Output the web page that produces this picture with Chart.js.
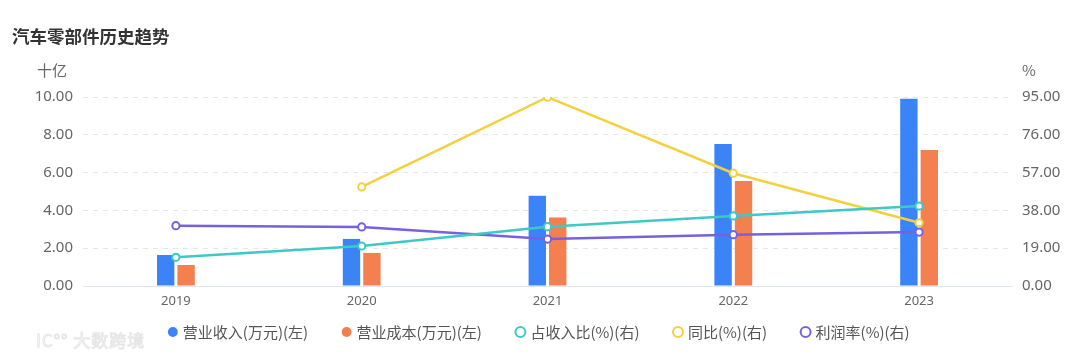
<!DOCTYPE html>
<html>
<head>
<meta charset="utf-8">
<script src="https://cdn.jsdelivr.net/npm/chart.js@4/dist/chart.umd.min.js"></script>
<style>
  html, body { margin: 0; padding: 0; background: #fff; }
  #wrap { position: relative; width: 1080px; height: 359px; overflow: hidden; }
  #title { position: absolute; left: 12px; top: 23px; font: bold 17.5px "Noto Sans CJK SC", sans-serif; color: #333; }
  #wm { position: absolute; left: 36px; top: 327px; font: 17px "Noto Sans CJK SC", sans-serif; color: #fff;
        -webkit-text-stroke: 1px #e6e6e6; letter-spacing: 1px; }
  canvas { position: absolute; left: 0; top: 0; }
</style>
</head>
<body>
<div id="wrap">
  <canvas id="c" width="1080" height="359"></canvas>
  <div id="title">汽车零部件历史趋势</div>
  <div id="wm">IC°° 大数跨境</div>
</div>
<script>
const categories = ['2019', '2020', '2021', '2022', '2023'];
const revenue = [1.64, 2.49, 4.78, 7.51, 9.91];      // 营业收入 (十亿)
const cost = [1.11, 1.75, 3.63, 5.56, 7.20];         // 营业成本 (十亿)
const revenueShare = [14.4, 20.1, 29.8, 35.2, 40.2]; // 占收入比 %
const yoy = [null, 49.8, 94.9, 56.7, 31.8];          // 同比 %
const profitRate = [30.3, 29.7, 23.6, 25.8, 27.1];   // 利润率 %
const leftTicks = [0, 2, 4, 6, 8, 10];
const rightTicks = [0, 19, 38, 57, 76, 95];
const seriesNames = ['营业收入(万元)(左)', '营业成本(万元)(左)', '占收入比(%)(右)', '同比(%)(右)', '利润率(%)(右)'];
const leftUnit = '十亿';
const rightUnit = '%';

const colors = ['#3a84f8', '#f47f4f', '#3dc9c4', '#f4d03f', '#7462e0'];

function lineDs(label, data, color) {
  return {
    type: 'line', label, data, yAxisID: 'y1', order: 1,
    borderColor: color, backgroundColor: '#ffffff', borderWidth: 2.5,
    pointRadius: 3.6, pointHoverRadius: 3.6, pointBorderWidth: 2,
    pointBackgroundColor: '#ffffff', pointBorderColor: color,
    tension: 0, spanGaps: false
  };
}
function barDs(label, data, color) {
  return {
    type: 'bar', label, data, yAxisID: 'y', order: 2,
    backgroundColor: color, borderColor: color, borderWidth: 0,
    categoryPercentage: 0.22, barPercentage: 0.85
  };
}

const LEGEND_PAD = 36;
const LEGEND_FONT = 15;

const layoutPlugin = {
  id: 'layoutTweak',
  afterInit(chart) {
    const lg = chart.legend;
    if (lg) {
      const orig = lg.fit.bind(lg);
      lg.fit = function () { orig(); this.height = 49; };
    }
  },
  afterLayout(chart) {
    const lg = chart.legend;
    if (lg) {
      lg.top = 332 - LEGEND_PAD - LEGEND_FONT / 2;
      lg.bottom = chart.height;
      lg.height = lg.bottom - lg.top;
    }
  },
  afterDraw(chart) {
    const ctx = chart.ctx, a = chart.chartArea;
    ctx.save();
    ctx.font = '15px "Noto Sans CJK SC", "Noto Sans", sans-serif';
    ctx.fillStyle = '#666';
    ctx.textBaseline = 'middle';
    ctx.textAlign = 'center';
    ctx.fillText(leftUnit, 52, a.top - 27);
    ctx.textAlign = 'left';
    ctx.fillText(rightUnit, a.right + 10, a.top - 27);
    // category labels placed by the x scale
    const xs = chart.scales.x;
    ctx.font = '13px "Noto Sans", sans-serif';
    ctx.textAlign = 'center';
    categories.forEach((c, i) => {
      ctx.fillText(c, xs.getPixelForValue(i), a.bottom + 15);
    });
    ctx.restore();
  }
};

new Chart(document.getElementById('c'), {
  data: {
    labels: categories,
    datasets: [
      barDs(seriesNames[0], revenue, colors[0]),
      barDs(seriesNames[1], cost, colors[1]),
      lineDs(seriesNames[2], revenueShare, colors[2]),
      lineDs(seriesNames[3], yoy, colors[3]),
      lineDs(seriesNames[4], profitRate, colors[4])
    ]
  },
  options: {
    responsive: false,
    animation: false,
    layout: { padding: { top: 97, bottom: 0, left: 0, right: 0 } },
    plugins: {
      title: { display: false },
      tooltip: { enabled: false },
      legend: {
        position: 'bottom',
        labels: {
          usePointStyle: true,
          pointStyle: 'circle',
          boxWidth: 5, boxHeight: 7,
          padding: LEGEND_PAD,
          color: '#555',
          font: { size: LEGEND_FONT, family: '"Noto Sans CJK SC", "Noto Sans", sans-serif' },
          sort: (a, b) => a.datasetIndex - b.datasetIndex
        }
      }
    },
    scales: {
      x: {
        grid: { display: false },
        border: { display: true, color: '#e0e6f1', width: 1 },
        ticks: { display: false },
        afterFit(s) { s.height = 24; }
      },
      y: {
        position: 'left', min: 0, max: 10,
        afterBuildTicks(s) { s.ticks = leftTicks.map(v => ({ value: v })); },
        ticks: { color: '#666', padding: 10, font: { size: 15, family: '"Noto Sans", sans-serif' },
                 callback: v => Number(v).toFixed(2) },
        grid: { color: '#e6e6e6', drawTicks: false, lineWidth: 1 },
        border: { display: false, dash: [5, 5] },
        afterFit(s) { s.width = 83; }
      },
      y1: {
        position: 'right', min: 0, max: 95,
        afterBuildTicks(s) { s.ticks = rightTicks.map(v => ({ value: v })); },
        ticks: { color: '#666', padding: 10, font: { size: 15, family: '"Noto Sans", sans-serif' },
                 callback: v => Number(v).toFixed(2) },
        grid: { drawOnChartArea: false, drawTicks: false },
        border: { display: false },
        afterFit(s) { s.width = 68; }
      }
    }
  },
  plugins: [layoutPlugin]
});
</script>
</body>
</html>
